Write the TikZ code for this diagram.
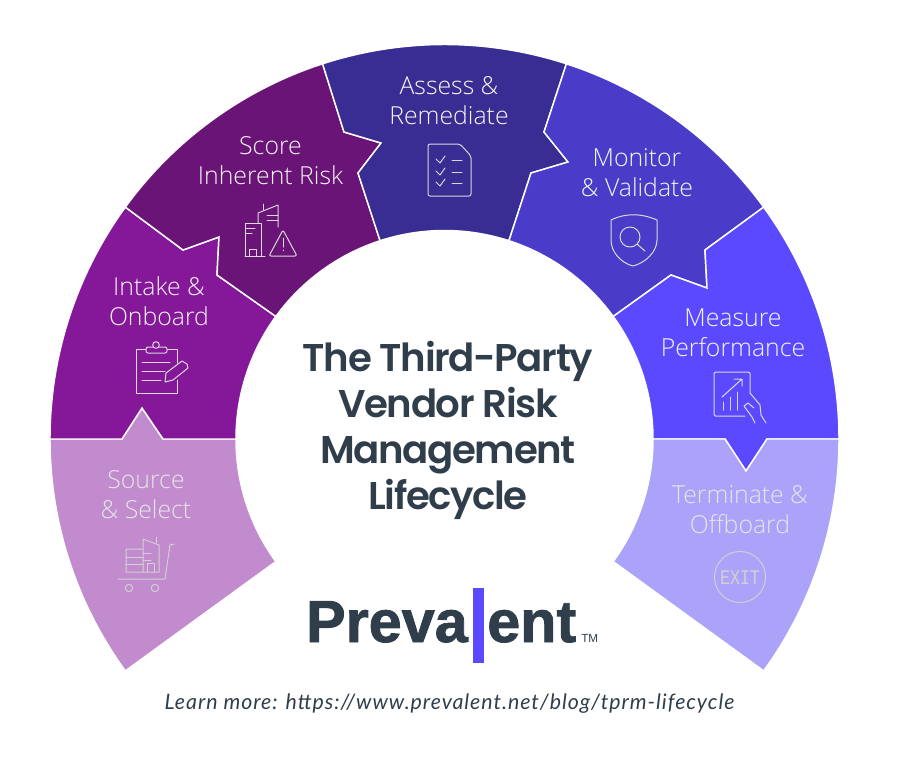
\documentclass[tikz,border=0pt]{standalone}
\usepackage{fontspec}
\setmainfont{Lato}
\newfontfamily\labelfont{Open Sans Light}
\newfontfamily\titlefont[LetterSpace=-3.5]{Poppins SemiBold}
\newfontfamily\logofont[FakeBold=1.4]{Liberation Sans Bold}
\newfontfamily\tmfont{Liberation Sans}
\newfontfamily\morefont[LetterSpace=4.5]{Lato}
\newfontfamily\exitfont[FakeStretch=0.8]{Liberation Mono}
\usetikzlibrary{positioning}
\definecolor{inkSlate}{RGB}{47,62,74}
\definecolor{sourceLilac}{RGB}{193,139,206}
\definecolor{intakePurple}{RGB}{133,23,153}
\definecolor{scorePlum}{RGB}{107,20,120}
\definecolor{assessIndigo}{RGB}{55,45,146}
\definecolor{monitorBlue}{RGB}{74,60,200}
\definecolor{measureViolet}{RGB}{91,73,255}
\definecolor{offboardPeri}{RGB}{171,163,250}
\tikzset{
  vr/sector/.style={draw=white, line width=1.1pt, line join=miter},
  vr/lbl/.style={font=\labelfont\fontsize{18.6}{22.5}\selectfont, align=center,
    text=white!96!black, inner sep=0pt},
  vr/lbl2/.style={vr/lbl, text=white!90!black},
  vr/title/.style={font=\titlefont\fontsize{29}{34.5}\selectfont, align=center,
    text=inkSlate, inner sep=0pt},
  vr/icon/.style={draw=white!85!black, line width=0.75pt, line cap=round,
    line join=round},
  vr/icon2/.style={vr/icon, draw=white!82!black},
  vr/logo/.style={font=\logofont\fontsize{44.5}{44.5}\selectfont,
    text=inkSlate, inner sep=0pt}
}
\begin{document}
\begin{tikzpicture}[x=0.75pt, y=-0.75pt]
  \path[use as bounding box] (0,0) rectangle (900,769);
  % sectors, left to right
  \filldraw[vr/sector, fill=sourceLilac] (236,439) -- (163,439) -- (142,408) -- (122,439) -- (50,439)
    arc[start angle=180, end angle=144, radius=394.5] -- (275.8,561.55)
    arc[start angle=144, end angle=180, radius=208.5] -- cycle;
  \filldraw[vr/sector, fill=intakePurple] (50,439)
    arc[start angle=180, end angle=216, radius=394.5] -- (183,250) -- (219,237) -- (217,275) -- (275.8,316.45)
    arc[start angle=216, end angle=180, radius=208.5] -- (163,439) -- (142,408) -- (122,439) -- cycle;
  \filldraw[vr/sector, fill=scorePlum] (125.35,207.1)
    arc[start angle=216, end angle=252, radius=394.5] -- (344,132) -- (381,143) -- (358,173) -- (380.1,240.7)
    arc[start angle=252, end angle=216, radius=208.5] -- (217,275) -- (219,237) -- (183,250) -- cycle;
  \filldraw[vr/sector, fill=assessIndigo] (322.6,63.8)
    arc[start angle=252, end angle=288, radius=394.5] -- (544,132) -- (568,162) -- (531,173) -- (508.9,240.7)
    arc[start angle=288, end angle=252, radius=208.5] -- (358,173) -- (381,143) -- (344,132) -- cycle;
  \filldraw[vr/sector, fill=monitorBlue] (566.4,63.8)
    arc[start angle=288, end angle=324, radius=394.5] -- (705,250) -- (707,288) -- (671,275) -- (613.2,316.45)
    arc[start angle=324, end angle=288, radius=208.5] -- (531,173) -- (568,162) -- (544,132) -- cycle;
  \filldraw[vr/sector, fill=measureViolet] (763.65,207.1)
    arc[start angle=324, end angle=360, radius=394.5] -- (767,439) -- (746,471) -- (725,439) -- (653,439)
    arc[start angle=360, end angle=324, radius=208.5] -- (671,275) -- (707,288) -- (705,250) -- cycle;
  \filldraw[vr/sector, fill=offboardPeri] (839,439)
    arc[start angle=360, end angle=396, radius=394.5] -- (613.2,561.55)
    arc[start angle=396, end angle=360, radius=208.5] -- (725,439) -- (746,471) -- (767,439) -- cycle;

  \node[vr/lbl2] (source) at (146,495) {Source\\\& Select};
  \node[vr/lbl] (intake) at (159,301.5) {Intake \&\\Onboard};
  \node[vr/lbl] (score) at (270.5,161) {Score\\Inherent Risk};
  \node[vr/lbl] (assess) at (449,100.5) {Assess \&\\Remediate};
  \node[vr/lbl] (monitor) at (637,173) {Monitor\\\& Validate};
  \node[vr/lbl] (measure) at (733,333) {Measure\\Performance};
  \node[vr/lbl2] (offboard) at (740,510) {Terminate \&\\Offboard};

  % source icon
  \draw[vr/icon2] (118,579) -- (165,579) -- (170,545) -- (174,544);
  \draw[vr/icon2] (129,588) circle (3.7) (155,588) circle (3.7);
  \draw[vr/icon2] (143,549) -- (126,549) -- (126,572) -- (159,572) -- (159,545) -- (143,539) -- (143,572);
  \draw[vr/icon2] (156,537) -- (156,543) (126,557) -- (143,557) (126,564) -- (143,564);
  \draw[vr/icon2] (147,572) -- (147,563) -- (154,563) -- (154,572);
  \draw[vr/icon2] (143,553) -- (151,553) (143,560) -- (151,560);
  % intake icon
  \draw[vr/icon] (146,349) -- (136,349) -- (136,393) -- (177,393) -- (177,380);
  \draw[vr/icon] (167,349) -- (177,349) -- (177,363);
  \draw[vr/icon, fill=intakePurple, rounded corners=1.5] (146,347) rectangle (167,353);
  \draw[vr/icon, fill=intakePurple] (156,345) circle (3.3);
  \draw[vr/icon] (142,362) -- (170,362) (142,371) -- (165,371) (142,380) -- (161,380);
  \draw[vr/icon] (165,382) -- (166,373) -- (182,361) -- (187,364) -- (188,368) -- (173,380) -- cycle;
  % score icon
  \draw[vr/icon] (245,256) -- (245,223) -- (261,223) -- (261,256) (245,256) -- (265,256);
  \draw[vr/icon] (249,256) -- (249,249) -- (256,249) -- (256,256);
  \draw[vr/icon] (246,228) -- (255,228) (246,233) -- (252,233);
  \draw[vr/icon] (258,223) -- (258,213) -- (278,205) -- (278,227);
  \draw[vr/icon] (263,204) -- (263,210) (267,215) -- (278,215) (267,220) -- (278,220);
  \draw[vr/icon, rounded corners=1.5] (283,230) -- (297,256) -- (269,256) -- cycle;
  \draw[vr/icon] (283,238) -- (283,247) (283,250) -- (283,250.5);
  % assess icon
  \draw[vr/icon, rounded corners=1.5] (460,144) -- (428,144) -- (428,196) -- (471,196) -- (471,156) -- cycle;
  \draw[vr/icon] (436,159) -- (440,163) -- (445,156) (436,171) -- (440,175) -- (445,168) (436,182) -- (440,186) -- (445,179);
  \draw[vr/icon] (452,160) -- (462,160) (452,172) -- (462,172) (452,183) -- (462,183);
  % monitor icon
  \draw[vr/icon] (611,220) .. controls (625,213) and (641,213) .. (657,220) -- (657,240)
    .. controls (657,252) and (645,263) .. (633,266) .. controls (621,263) and (611,252) .. (611,240) -- cycle;
  \draw[vr/icon] (630,237) circle (10) (637,244) -- (645,251);
  % measure icon
  \draw[vr/icon, rounded corners=1] (750,393) -- (750,372) -- (714,372) -- (714,416) -- (745,416);
  \draw[vr/icon] (722,397) -- (742,379) (734,379) -- (742,379) -- (742,386);
  \draw[vr/icon] (723,402) -- (723,410) (730,397) -- (730,410) (737,392) -- (737,410);
  \draw[vr/icon] (750,393) -- (760,405) -- (761,415) -- (766,423);
  \draw[vr/icon] (754,408) -- (748,403) -- (744,406) -- (752,417) -- (755,423);
  % offboard icon
  \draw[vr/icon2] (740,577) circle (25.5);
  \node[font=\exitfont\fontsize{15.6}{15.6}\selectfont, text=white!82!black, inner sep=0pt] (exit) at (740,578) {EXIT};

  \node[vr/title] (title) at (448,430) {The Third-Party\\Vendor Risk\\Management\\Lifecycle};
  % logo
  \node[vr/logo, anchor=base east] (preva) at (468,642) {Preva};
  \node[vr/logo, anchor=base west] (ent) at (487,642) {ent};
  \node[fill=measureViolet, minimum width=8.25pt, minimum height=56.25pt, inner sep=0pt] (bar) at (478,625.5) {};
  \node[font=\tmfont\fontsize{8.8}{8.8}\selectfont, text=inkSlate, inner sep=0pt, anchor=base west] (tm) at (581,642) {TM};
  \node[font=\morefont\itshape\fontsize{16}{16}\selectfont, text=inkSlate, inner sep=0pt] (more) at (449.5,704) {Learn more: https://www.prevalent.net/blog/tprm-lifecycle};
\end{tikzpicture}
\end{document}
